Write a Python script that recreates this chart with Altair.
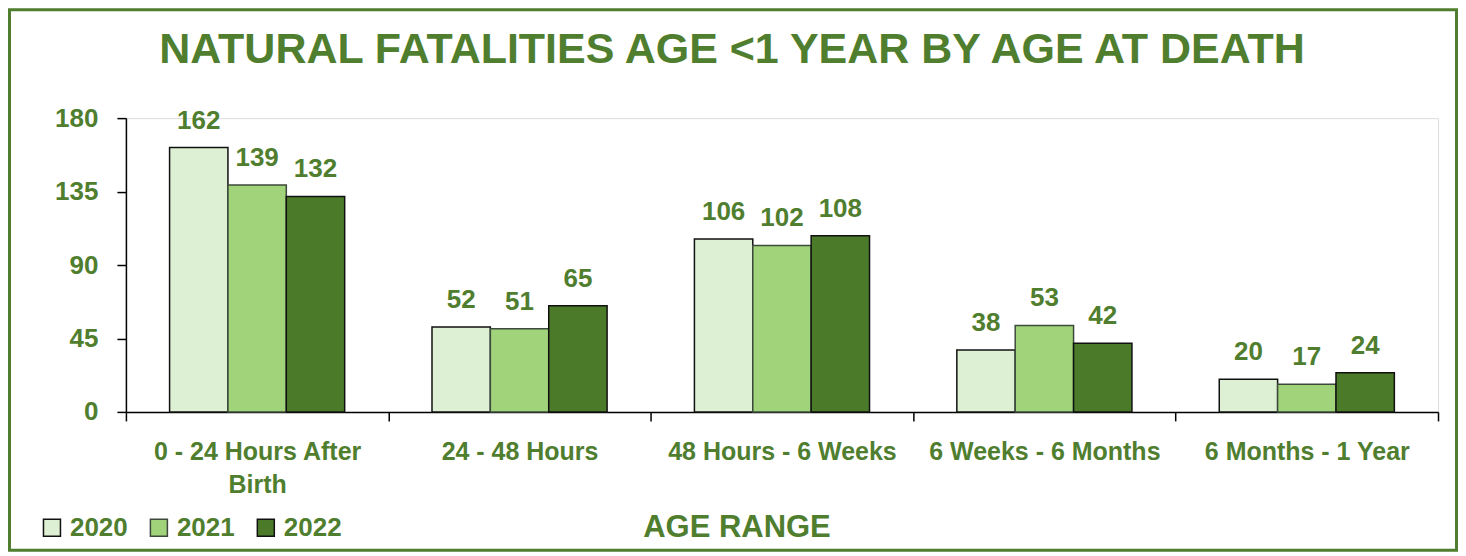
import altair as alt
import pandas as pd

categories = ["0 - 24 Hours After Birth", "24 - 48 Hours", "48 Hours - 6 Weeks",
              "6 Weeks - 6 Months", "6 Months - 1 Year"]
years = ["2020", "2021", "2022"]
v2020 = [162, 52, 106, 38, 20]
v2021 = [139, 51, 102, 53, 17]
v2022 = [132, 65, 108, 42, 24]
y_ticks = [0, 45, 90, 135, 180]
fill_colors = ["#DEF0D4", "#A1D47A", "#4B7A29"]
stroke_colors = ["#111111", "#3C4A3C", "#111111"]

rows = []
for yr, vals in zip(years, [v2020, v2021, v2022]):
    for c, v in zip(categories, vals):
        rows.append({"cat": c, "year": yr, "value": v})
df = pd.DataFrame(rows)

GREEN = "#507E2F"
FONT = "Liberation Sans, Arial, sans-serif"

W, H = 1313, 294

x_enc = alt.X(
    "cat:N", sort=categories,
    scale=alt.Scale(paddingInner=0, paddingOuter=0),
    axis=alt.Axis(
        title="AGE RANGE", labelAngle=0, tickBand="extent", labelLimit=0,
        labelExpr="datum.label == '0 - 24 Hours After Birth' ? ['0 - 24 Hours After', 'Birth'] : datum.label",
        labelFont=FONT, labelFontSize=25, labelFontWeight="bold", labelColor=GREEN,
        labelLineHeight=33, labelPadding=19, labelBaseline="top",
        tickSize=9, tickColor="black", tickWidth=1.5, domainColor="black", domainWidth=1.5,
        titleFont=FONT, titleFontSize=31, titleFontWeight="bold", titleColor=GREEN,
        titleX=611, titleY=125, titleAlign="center", titleBaseline="alphabetic",
    ),
)
xoff = alt.XOffset("year:N", sort=years, scale=alt.Scale(paddingInner=0, paddingOuter=0.748))
y_enc = alt.Y(
    "value:Q", scale=alt.Scale(domain=[0, 180], nice=False),
    axis=alt.Axis(values=y_ticks, title=None, grid=False,
                  labelFont=FONT, labelFontSize=26, labelFontWeight="bold", labelColor=GREEN,
                  labelPadding=19, tickSize=9, tickColor="black", tickWidth=1.5,
                  domainColor="black", domainWidth=1.5),
)

base = alt.Chart(df)
bars = base.mark_bar(strokeWidth=1.5).encode(
    x=x_enc, xOffset=xoff, y=y_enc,
    fill=alt.Fill("year:N", sort=years, scale=alt.Scale(domain=years, range=fill_colors),
                  legend=alt.Legend(orient="none", legendX=-87, legendY=397, direction="horizontal",
                                    title=None, symbolType="square", symbolSize=289,
                                    symbolStrokeColor="#222222", symbolStrokeWidth=1.5,
                                    labelFont=FONT, labelFontSize=26, labelFontWeight="bold",
                                    labelColor=GREEN, columnPadding=18, labelOffset=5, padding=0,
                                    labelLimit=0)),
    stroke=alt.Stroke("year:N", scale=alt.Scale(domain=years, range=stroke_colors), legend=None),
)
labels = base.mark_text(dy=-19, baseline="alphabetic", font=FONT, fontSize=26,
                        fontWeight="bold", color=GREEN).encode(
    x=alt.X("cat:N", sort=categories), xOffset=alt.XOffset("year:N", sort=years),
    y="value:Q", text="value:Q",
)
frame = alt.Chart(pd.DataFrame({"a": [0]})).mark_rect(
    fill=None, stroke=GREEN, strokeWidth=3).encode(
    x=alt.value(-116.5), x2=alt.value(1331.5), y=alt.value(-108.5), y2=alt.value(432.5))

chart = alt.layer(frame, bars, labels).properties(
    width=W, height=H,
    padding=0,
    title=alt.TitleParams("NATURAL FATALITIES AGE <1 YEAR BY AGE AT DEATH",
                          font=FONT, fontSize=43, fontWeight="bold", color=GREEN,
                          anchor="middle", dx=-50, dy=68),
).configure_view(stroke=None).configure(background="white")

chart.save("out.html", embed_options={"renderer": "svg", "actions": False})
